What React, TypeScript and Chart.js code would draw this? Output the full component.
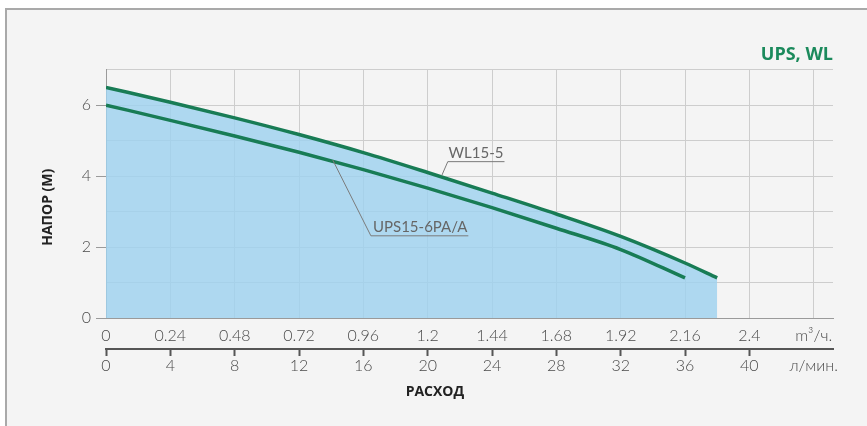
import React, { useEffect, useRef } from 'react';
import { Chart, registerables } from 'chart.js';

Chart.register(...registerables);

// Flow in l/min, head in m
const wlFlow = [0, 4, 8, 12, 16, 20, 24, 28, 32, 36, 38];
const wlHead = [6.5, 6.08, 5.64, 5.17, 4.66, 4.1, 3.52, 2.93, 2.3, 1.55, 1.13];
const upsFlow = [0, 4, 8, 12, 16, 20, 24, 28, 32, 36];
const upsHead = [6.0, 5.57, 5.13, 4.67, 4.18, 3.66, 3.11, 2.53, 1.93, 1.13];

const xTickValues = [0, 4, 8, 12, 16, 20, 24, 28, 32, 36, 40, 44];
const m3hLabels = ['0', '0.24', '0.48', '0.72', '0.96', '1.2', '1.44', '1.68', '1.92', '2.16', '2.4', 'm³/ч.'];
const lpmLabels = ['0', '4', '8', '12', '16', '20', '24', '28', '32', '36', '40', 'л/мин.'];
const yTickValues = [0, 1, 2, 3, 4, 5, 6, 7];
const yLabels = ['0', '', '2', '', '4', '', '6', ''];

const X_MAX = 45.2;
const Y_MAX = 7;

const title = 'UPS, WL';
const xTitle = 'РАСХОД';
const yTitle = 'НАПОР (М)';
const xTitleAt = 20.45; // l/min, centre of the x title
const yTitleAt = 3.12; // m, centre of the y title

// callouts (data units: l/min, m)
const callouts = [
  { text: 'WL15-5', textX: 21.3, lineY: 4.42, startX: 21.25, endX: 20.88, endY: 4.02 },
  { text: 'UPS15-6PA/A', textX: 16.6, lineY: 2.33, startX: 16.47, endX: 14.1, endY: 4.45 },
];

const GREEN = '#187c55';
const TICK_FONT = { family: 'Lato', size: 16, weight: '300' as any };

const calloutPlugin = {
  id: 'callouts',
  afterDatasetsDraw(chart: any) {
    const { ctx, scales } = chart;
    const xs = scales.x;
    const ys = scales.y;
    ctx.save();
    ctx.font = '400 15px Lato';
    ctx.fillStyle = '#666';
    ctx.strokeStyle = '#7a7a7a';
    ctx.lineWidth = 1;
    ctx.textBaseline = 'alphabetic';
    ctx.textAlign = 'left';
    for (const c of callouts) {
      const tx = xs.getPixelForValue(c.textX);
      const ly = ys.getPixelForValue(c.lineY);
      const sx = xs.getPixelForValue(c.startX);
      const w = ctx.measureText(c.text).width;
      ctx.fillText(c.text, tx, ly - 3);
      ctx.beginPath();
      ctx.moveTo(sx, ly + 0.5);
      ctx.lineTo(tx + w + 1, ly + 0.5);
      ctx.moveTo(sx, ly + 0.5);
      ctx.lineTo(xs.getPixelForValue(c.endX), ys.getPixelForValue(c.endY));
      ctx.stroke();
    }
    ctx.restore();
  },
  afterDraw(chart: any) {
    const { ctx, scales } = chart;
    const xs = scales.x;
    const ys = scales.y;
    ctx.save();
    ctx.font = "bold 14px 'Open Sans'";
    ctx.fillStyle = '#222';
    ctx.textAlign = 'center';
    ctx.textBaseline = 'middle';
    ctx.fillText(xTitle, xs.getPixelForValue(xTitleAt), 392);
    ctx.translate(48, ys.getPixelForValue(yTitleAt));
    ctx.rotate(-Math.PI / 2);
    ctx.fillText(yTitle, 0, 0);
    ctx.restore();
  },
};

export default function App() {
  const ref = useRef<HTMLCanvasElement>(null);
  useEffect(() => {
    if (!ref.current) return;
    const chart = new Chart(ref.current, {
      type: 'line',
      data: {
        datasets: [
          {
            label: 'WL15-5',
            data: wlFlow.map((x, i) => ({ x, y: wlHead[i] })),
            borderColor: GREEN,
            borderWidth: 3.5,
            backgroundColor: 'rgba(159,210,239,0.82)',
            fill: 'origin',
            pointRadius: 0,
            cubicInterpolationMode: 'monotone',
            borderCapStyle: 'butt',
          },
          {
            label: 'UPS15-6PA/A',
            data: upsFlow.map((x, i) => ({ x, y: upsHead[i] })),
            borderColor: GREEN,
            borderWidth: 3.5,
            fill: false,
            pointRadius: 0,
            cubicInterpolationMode: 'monotone',
          },
        ],
      },
      options: {
        animation: false,
        responsive: false,
        layout: { padding: { left: 35, right: 34, top: 34, bottom: 20 } },
        plugins: {
          legend: { display: false },
          tooltip: { enabled: false },
          filler: { drawTime: 'beforeDatasetsDraw' },
          title: {
            display: true,
            text: title,
            align: 'end',
            color: '#1b8a5c',
            font: { family: "'Open Sans'", size: 18, weight: 'bold' },
            padding: { top: 10, bottom: 4 },
          },
        },
        scales: {
          x: {
            type: 'linear',
            position: 'bottom',
            weight: 0,
            min: 0,
            max: X_MAX,
            afterBuildTicks: (s: any) => {
              s.ticks = xTickValues.map((v) => ({ value: v }));
            },
            afterFit: (s: any) => {
              s.height = 31;
            },
            grid: { color: '#cdcdcd', lineWidth: 1, drawTicks: false },
            border: { color: '#9a9a9a', width: 1 },
            ticks: {
              padding: 8,
              maxRotation: 0,
              autoSkip: false,
              color: '#4a4a4a',
              font: TICK_FONT,
              callback: (v: any) => m3hLabels[xTickValues.indexOf(v)] ?? '',
            },
          },
          x2: {
            type: 'linear',
            position: 'bottom',
            weight: 1,
            min: 0,
            max: X_MAX,
            afterBuildTicks: (s: any) => {
              s.ticks = xTickValues.map((v) => ({ value: v }));
            },
            afterFit: (s: any) => {
              s.height = 57;
            },
            grid: {
              drawOnChartArea: false,
              drawTicks: true,
              tickLength: 7,
              tickWidth: 2,
              tickColor: (c: any) => (c.tick && c.tick.value === 44 ? 'rgba(0,0,0,0)' : '#555'),
            },
            border: { color: '#555', width: 2 },
            ticks: {
              padding: 0,
              maxRotation: 0,
              autoSkip: false,
              color: '#4a4a4a',
              font: TICK_FONT,
              callback: (v: any) => lpmLabels[xTickValues.indexOf(v)] ?? '',
            },
          },
          y: {
            type: 'linear',
            min: 0,
            max: Y_MAX,
            afterBuildTicks: (s: any) => {
              s.ticks = yTickValues.map((v) => ({ value: v }));
            },
            afterFit: (s: any) => {
              s.width = 71;
            },
            grid: {
              color: '#cdcdcd',
              lineWidth: 1,
              tickLength: 10,
              tickColor: (c: any) => (c.tick && c.tick.value % 2 === 0 ? '#9a9a9a' : 'rgba(0,0,0,0)'),
            },
            border: { color: '#9a9a9a', width: 1 },
            ticks: {
              padding: 5,
              color: '#4a4a4a',
              font: TICK_FONT,
              callback: (v: any) => yLabels[yTickValues.indexOf(v)] ?? '',
            },
          },
        },
      } as any,
      plugins: [calloutPlugin],
    });
    return () => chart.destroy();
  }, []);

  return (
    <div style={{ position: 'fixed', left: 0, top: 0, width: 867, height: 426, background: '#fff', overflow: 'hidden' }}>
      <div
        style={{
          position: 'absolute',
          left: 5,
          top: 8,
          width: 880,
          height: 440,
          background: '#f4f4f4',
          borderLeft: '2px solid #a9a9a9',
          borderTop: '2px solid #a9a9a9',
        }}
      />
      <canvas ref={ref} width={867} height={426} style={{ position: 'absolute', left: 0, top: 0, width: 867, height: 426 }} />
    </div>
  );
}
